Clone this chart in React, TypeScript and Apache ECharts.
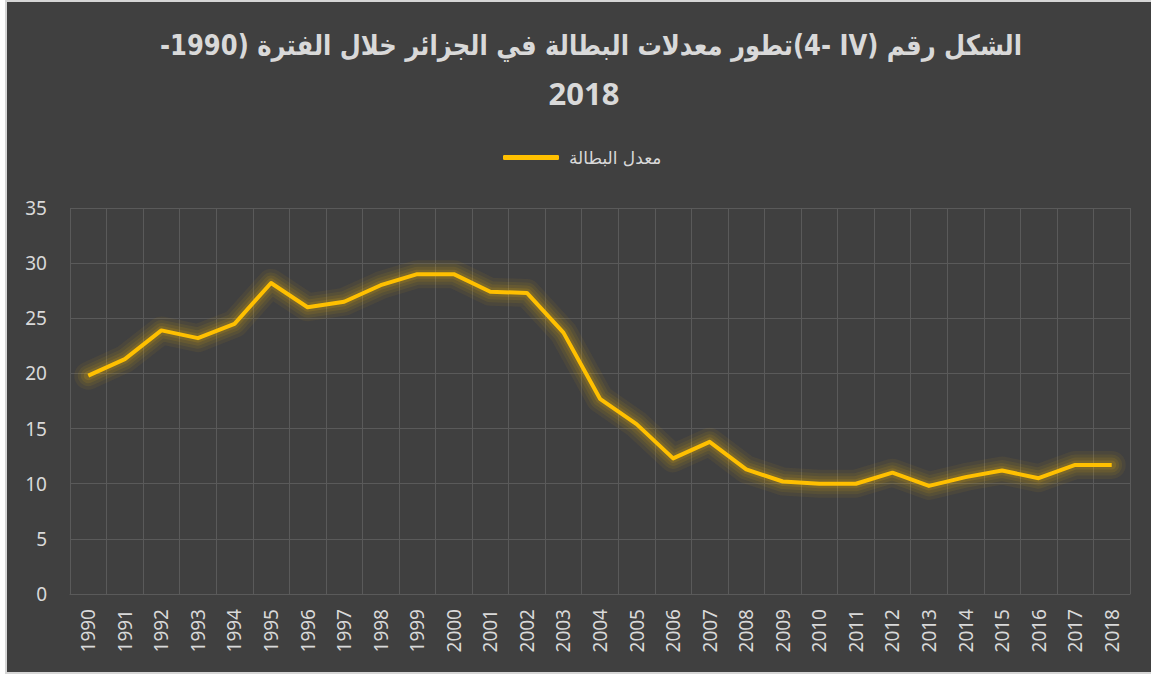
import React, { useEffect, useRef } from "react";
import * as echarts from "echarts";

const years = [
  "1990", "1991", "1992", "1993", "1994", "1995", "1996", "1997", "1998", "1999",
  "2000", "2001", "2002", "2003", "2004", "2005", "2006", "2007", "2008", "2009",
  "2010", "2011", "2012", "2013", "2014", "2015", "2016", "2017", "2018",
];
const unemployment = [
  19.8, 21.3, 23.9, 23.2, 24.5, 28.2, 26.0, 26.5, 28.0, 29.0,
  29.0, 27.4, 27.3, 23.7, 17.7, 15.4, 12.3, 13.8, 11.3, 10.2,
  10.0, 10.0, 11.0, 9.8, 10.6, 11.2, 10.5, 11.7, 11.7,
];
const yTicks = { min: 0, max: 35, interval: 5 };
const seriesName = "معدل البطالة";

// RLM after "IV" keeps "IV" and "-4" as separate runs, as in the reference
const titleText1 = "الشكل رقم (IV\u200F -4)تطور معدلات البطالة في الجزائر خلال الفترة (1990-";
const titleText2 = "2018";
// right-to-left embedding so the line reads as an Arabic paragraph
const titleLine1 = "\u202B" + titleText1 + "\u202C";

const TITLE_FONT = "bold 28px 'DejaVu Sans', 'Noto Sans', sans-serif";

export default function App() {
  const ref = useRef<HTMLDivElement>(null);
  useEffect(() => {
    if (!ref.current) return;
    const chart = echarts.init(ref.current, undefined, { renderer: "svg" });
    const textColor = "#d9d9d9";
    const gridColor = "#5a5a5a";

    const ctx = document.createElement("canvas").getContext("2d")!;
    ctx.font = TITLE_FONT;
    const measured = ctx.measureText(titleLine1).width || 1000;
    const targetWidth = 862;
    const scale = Math.min(1, targetWidth / measured);

    const glow = (alpha: number, width: number) => ({
      name: "glow",
      type: "line",
      data: unemployment,
      symbol: "none",
      silent: true,
      lineStyle: { color: `rgba(255, 192, 0, ${alpha})`, width, cap: "round", join: "round" },
    });

    chart.setOption({
      animation: false,
      backgroundColor: "#404040",
      graphic: [
        {
          type: "text",
          x: 1015,
          y: 43,
          scaleX: scale,
          style: {
            text: titleLine1,
            fill: textColor,
            font: TITLE_FONT,
            align: "right",
            verticalAlign: "middle",
          },
        },
        {
          type: "text",
          x: 577,
          y: 91,
          style: {
            text: titleText2,
            fill: textColor,
            font: "bold 31px 'Noto Sans', sans-serif",
            align: "center",
            verticalAlign: "middle",
          },
        },
      ],
      legend: {
        data: [seriesName],
        left: 491,
        top: 142,
        icon: "roundRect",
        itemWidth: 56,
        itemHeight: 5,
        textStyle: {
          color: textColor,
          fontSize: 17,
          fontFamily: "'DejaVu Sans', sans-serif",
          padding: [0, 0, 0, 5],
        },
      },
      grid: { left: 63, right: 21, top: 206, bottom: 78, containLabel: false },
      xAxis: {
        type: "category",
        data: years,
        boundaryGap: true,
        axisLine: { show: true, lineStyle: { color: gridColor, width: 1 } },
        axisTick: { show: false },
        axisLabel: {
          color: textColor,
          fontSize: 19,
          fontFamily: "'Noto Sans', sans-serif",
          rotate: 90,
          margin: 15,
          interval: 0,
        },
        splitLine: { show: true, lineStyle: { color: gridColor, width: 1 } },
      },
      yAxis: {
        type: "value",
        min: yTicks.min,
        max: yTicks.max,
        interval: yTicks.interval,
        axisLine: { show: false },
        axisTick: { show: false },
        axisLabel: {
          color: textColor,
          fontSize: 19,
          fontFamily: "'Noto Sans', sans-serif",
          margin: 23,
        },
        splitLine: { show: true, lineStyle: { color: gridColor, width: 1 } },
      },
      series: [
        glow(0.06, 28),
        glow(0.07, 21),
        glow(0.09, 15),
        glow(0.13, 9),
        {
          name: seriesName,
          type: "line",
          data: unemployment,
          symbol: "none",
          lineStyle: { color: "#ffc000", width: 4, join: "round" },
          itemStyle: { color: "#ffc000" },
        },
      ],
    });
    return () => chart.dispose();
  }, []);
  return (
    <div
      style={{
        position: "absolute",
        left: 5,
        top: 0,
        width: 1146,
        height: 674,
        boxSizing: "border-box",
        borderLeft: "2px solid #d6d6d6",
        borderTop: "2px solid #d6d6d6",
        borderBottom: "2px solid #d6d6d6",
        background: "#404040",
      }}
    >
      <div ref={ref} style={{ width: 1144, height: 670 }} />
    </div>
  );
}
